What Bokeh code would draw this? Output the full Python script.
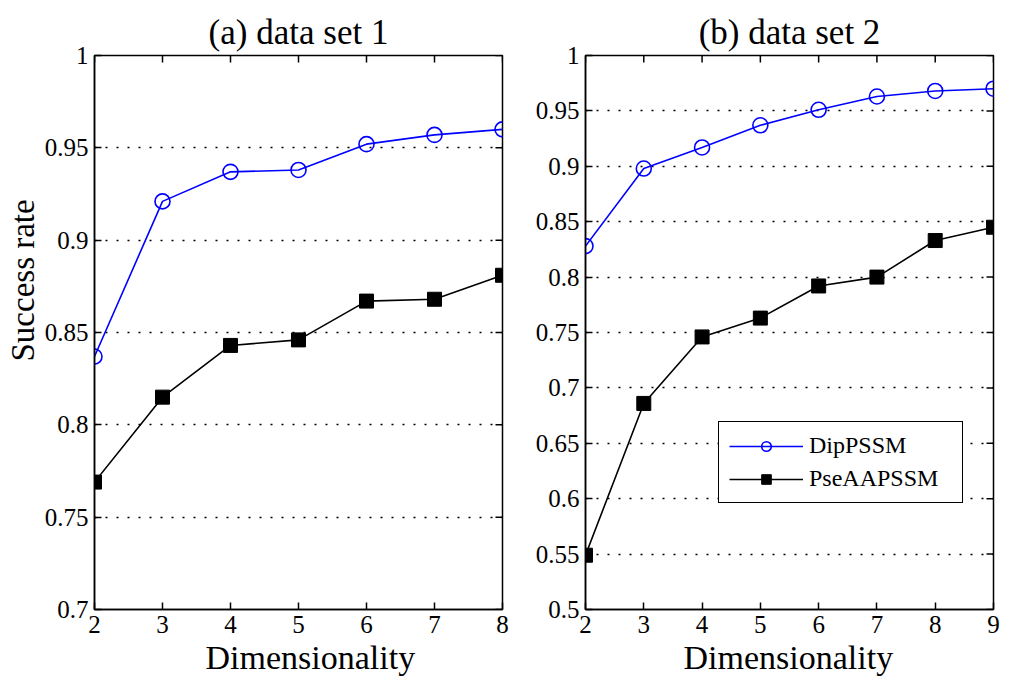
import math
from bokeh.plotting import figure
from bokeh.layouts import row
from bokeh.models import Range1d, FixedTicker, CustomJSTickFormatter, Title
from bokeh.embed import file_html
from bokeh.resources import INLINE

# ---- data ----
dims1 = [2, 3, 4, 5, 6, 7, 8]
dip1 = [0.837, 0.921, 0.937, 0.938, 0.952, 0.957, 0.960]
pse1 = [0.769, 0.815, 0.843, 0.846, 0.867, 0.868, 0.881]

dims2 = [2, 3, 4, 5, 6, 7, 8, 9]
dip2 = [0.828, 0.898, 0.917, 0.937, 0.951, 0.963, 0.968, 0.970]
pse2 = [0.549, 0.686, 0.746, 0.763, 0.792, 0.800, 0.833, 0.845]

yticks1 = [0.7, 0.75, 0.8, 0.85, 0.9, 0.95, 1.0]
yticks2 = [0.5, 0.55, 0.6, 0.65, 0.7, 0.75, 0.8, 0.85, 0.9, 0.95, 1.0]

titles = ["(a) data set 1", "(b) data set 2"]
xlabel = "Dimensionality"
ylabel1 = "Success rate"
series_names = ["DipPSSM", "PseAAPSSM"]

FONT = "Liberation Serif"
fmt_code = "var s = tick.toFixed(2); s = s.replace(/0+$/, ''); s = s.replace(/\\.$/, ''); return s;"


def label_title(text, size, offset):
    t = Title(text=text)
    t.text_font = FONT
    t.text_font_size = size
    t.text_font_style = "normal"
    t.text_color = "black"
    t.align = "left"
    t.offset = offset
    t.standoff = 2
    return t


def make_fig(title, xs, dip, pse, yticks, width, height, mbl, mbt, ylabel, legend, xoff):
    p = figure(width=width, height=height, output_backend="svg", toolbar_location=None,
               x_range=Range1d(xs[0], xs[-1]), y_range=Range1d(yticks[0], yticks[-1]),
               min_border_left=mbl, min_border_right=23, min_border_top=mbt,
               min_border_bottom=height - mbt - 556)
    p.title.text = title
    p.title.text_font = FONT
    p.title.text_font_size = "35px"
    p.title.text_font_style = "normal"
    p.title.text_color = "black"
    p.title.align = "center"
    p.title.offset = 0
    p.title.standoff = 8

    p.outline_line_color = "black"
    p.outline_line_width = 1.5
    p.background_fill_color = "white"
    p.border_fill_color = "white"

    p.xgrid.visible = False
    p.ygrid.ticker = FixedTicker(ticks=yticks)
    p.ygrid.grid_line_color = "black"
    p.ygrid.grid_line_dash = "2 9"
    p.ygrid.grid_line_width = 1.5

    fmt = CustomJSTickFormatter(code=fmt_code)
    for ax, ticks in ((p.xaxis[0], xs), (p.yaxis[0], yticks)):
        ax.ticker = FixedTicker(ticks=ticks)
        ax.major_tick_in = 7
        ax.major_tick_out = 0
        ax.minor_tick_line_color = None
        ax.major_tick_line_color = "black"
        ax.major_tick_line_width = 1.5
        ax.axis_line_color = "black"
        ax.axis_line_width = 1.5
        ax.major_label_text_font = FONT
        ax.major_label_text_font_size = "25px"
        ax.major_label_text_color = "black"
        ax.major_label_standoff = 6
    p.yaxis[0].formatter = fmt

    p.add_layout(label_title(xlabel, "34px", xoff), "below")
    if ylabel:
        p.add_layout(label_title(ylabel, "33px", 248), "left")

    # mirrored inner ticks on the top and right edges of the box
    p.ray(x=xs, y=[yticks[-1]] * len(xs), length=7, length_units="screen",
          angle=-math.pi / 2, line_color="black", line_width=1.5)
    p.ray(x=[xs[-1]] * len(yticks), y=yticks, length=7, length_units="screen",
          angle=math.pi, line_color="black", line_width=1.5)

    kw0 = dict(legend_label=series_names[0]) if legend else {}
    kw1 = dict(legend_label=series_names[1]) if legend else {}
    p.line(xs, dip, line_color="blue", line_width=1.6, **kw0)
    p.scatter(xs, dip, marker="circle", size=15, fill_color=None, line_color="blue",
              line_width=1.6, **kw0)
    p.line(xs, pse, line_color="black", line_width=1.6, **kw1)
    p.scatter(xs, pse, marker="square", size=14, fill_color="black", line_color="black", **kw1)

    if legend:
        lg = p.legend[0]
        lg.location = (133, 106)
        lg.label_text_font = FONT
        lg.label_text_font_size = "24px"
        lg.label_text_color = "black"
        lg.border_line_color = "black"
        lg.border_line_width = 1.5
        lg.border_line_alpha = 1
        lg.glyph_width = 74
        lg.glyph_height = 24
        lg.label_height = 26
        lg.label_width = 143
        lg.spacing = 6
        lg.padding = 10
        lg.margin = 0
        lg.label_standoff = 6
        lg.background_fill_alpha = 1
    return p


p1 = make_fig(titles[0], dims1, dip1, pse1, yticks1, 525, 690, 94, 55, ylabel1, False, 111)
p2 = make_fig(titles[1], dims2, dip2, pse2, yticks2, 491, 690, 60, 53, None, True, 98)

layout = row(p1, p2)
open("out.html", "w").write(file_html(layout, INLINE))
